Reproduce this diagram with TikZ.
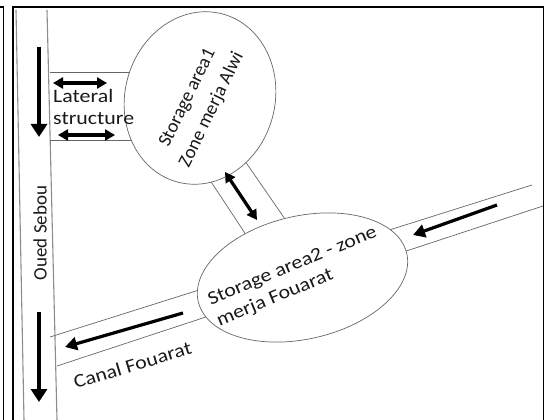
\documentclass[tikz,border=0pt]{standalone}
\usepackage{fontspec}
\setmainfont{Carlito}
\newfontfamily\widefont[FakeStretch=1.15]{Carlito}
\usetikzlibrary{arrows.meta,shapes.geometric}
\begin{document}
\begin{tikzpicture}[x=1pt,y=-1pt]
\tikzstyle{bank}=[draw=black!45,line width=1.1pt]
\tikzstyle{wall}=[draw=black!60,line width=0.7pt]
\tikzstyle{storage}=[draw=black!60,line width=0.7pt,fill=white,ellipse,inner sep=0pt]
\tikzstyle{flowarrow}=[line width=3.2pt,-{Triangle[length=12pt,width=13pt]}]
\tikzstyle{riverarrow}=[line width=3.4pt,-{Triangle[length=13pt,width=16pt]}]
\tikzstyle{twoway}=[line width=3.2pt,{Triangle[length=10pt,width=11pt]}-{Triangle[length=10pt,width=11pt]}]
\tikzstyle{lbl}=[inner sep=0pt,text=black!90,font=\fontsize{19}{27}\selectfont]
\tikzstyle{widelbl}=[inner sep=0pt,text=black!90,font=\widefont\fontsize{19}{22.5}\selectfont]

\useasboundingbox (0,0) rectangle (547,420);
\draw [line width=1.5pt] (0,7) -- (3.5,7) -- (3.5,420);
\draw [line width=1.6pt] (13,420) -- (13,7) -- (543.5,7) -- (543.5,420);

\coordinate (lb1) at (16,10);  \coordinate (lb2) at (24,420);
\coordinate (rb1) at (47,10);  \coordinate (rb2) at (57,420);
\draw [bank] (lb1) -- (lb2);
\draw [bank] (rb1) -- (rb2);

\coordinate (la1) at (50,72);  \coordinate (la2) at (160,72);
\coordinate (la3) at (50,140); \coordinate (la4) at (160,140);
\draw [wall] (la1) -- (la2);
\draw [wall] (la3) -- (la4);

\coordinate (ch1) at (202,168); \coordinate (ch2) at (256,250);
\coordinate (ch3) at (236,148); \coordinate (ch4) at (296,235);
\draw [wall] (ch1) -- (ch2);
\draw [wall] (ch3) -- (ch4);

\coordinate (cf1) at (50,337); \coordinate (cf2) at (532,185);
\coordinate (cf3) at (57,366); \coordinate (cf4) at (543,206);
\draw [wall] (cf1) -- (cf2);
\draw [wall] (cf3) -- (cf4);

\node (alwi) [storage,rotate=75,minimum width=174pt,minimum height=150pt] at (200,98) {};
\node (fouarat) [storage,rotate=13,minimum width=214pt,minimum height=123pt] at (302.5,277.5) {};

\coordinate (r1) at (39,47);   \coordinate (r2) at (39,137);
\coordinate (r3) at (39,312);  \coordinate (r4) at (39,402);
\draw [riverarrow] (r1) -- (r2);
\draw [riverarrow] (r3) -- (r4);

\coordinate (l1) at (53,83);   \coordinate (l2) at (107,83);
\coordinate (l3) at (58,135);  \coordinate (l4) at (115,135);
\draw [twoway] (l1) -- (l2);
\draw [twoway] (l3) -- (l4);

\coordinate (m1) at (225,172); \coordinate (m2) at (257,220);
\draw [twoway] (m1) -- (m2);

\coordinate (c1) at (497,205); \coordinate (c2) at (413,235);
\coordinate (c3) at (183,313); \coordinate (c4) at (65,347);
\draw [flowarrow] (c1) -- (c2);
\draw [flowarrow] (c3) -- (c4);

\node (lateral) [widelbl,anchor=west,align=left] at (53,107) {Lateral\\structure};
\node (alwitext) [lbl,rotate=64,align=center] at (200,104) {Storage area1\\Zone merja Alwi};
\node (fouarattext) [widelbl,rotate=22.6,align=left] at (297,277) {Storage area2 - zone\\merja Fouarat};
\node (canal) [widelbl,rotate=16.6] at (132.5,365) {Canal Fouarat};
\node (sebou) [lbl,rotate=90] at (40,233) {Oued Sebou};
\end{tikzpicture}
\end{document}
